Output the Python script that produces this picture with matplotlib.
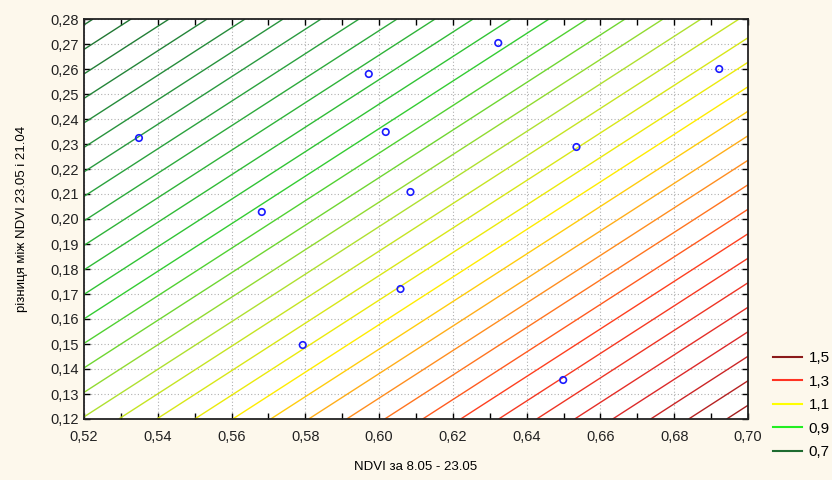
import numpy as np
import matplotlib
matplotlib.use("Agg")
import matplotlib.pyplot as plt
from matplotlib.colors import LinearSegmentedColormap
from matplotlib.lines import Line2D
from matplotlib.ticker import MultipleLocator, FuncFormatter

# Observed points
x_pts = [0.5349, 0.5682, 0.5793, 0.5972, 0.6018, 0.6085, 0.6058, 0.6323, 0.6535, 0.6922, 0.6499]
y_pts = [0.2324, 0.2028, 0.1496, 0.2580, 0.2348, 0.2108, 0.1720, 0.2704, 0.2288, 0.2600, 0.1356]

# Fitted surface coefficients (z = b0 + bx*(x-0.52) + by*(y-0.28))
b0 = 0.694
bx = 2.427
by = -2.551

level_start = 0.55
level_stop = 1.65
level_step = 0.025

legend_labels = ["1,5", "1,3", "1,1", "0,9", "0,7"]
legend_colors = ["#8b1a1a", "#ff3322", "#ffff00", "#22ee22", "#1e6b30"]

xlabel = "NDVI за 8.05 - 23.05"
ylabel = "різниця між NDVI 23.05 і 21.04"

plt.rcParams['font.family'] = ['Liberation Sans', 'DejaVu Sans']

fig = plt.figure(figsize=(8.32, 4.8), dpi=100)
fig.patch.set_facecolor("#fdf8ec")
ax = fig.add_axes([84/832, 1-419/480, (748-84)/832, (419-19)/480])
ax.set_facecolor("white")

gx = np.linspace(0.52, 0.70, 200)
gy = np.linspace(0.12, 0.28, 200)
GX, GY = np.meshgrid(gx, gy)
Z = b0 + bx*(GX-0.52) + by*(GY-0.28)

zmin, zmax = 0.69, 1.56
nodes = [(0.69, "#1e6e30"), (0.85, "#2a9a40"), (1.00, "#33cc33"), (1.10, "#b0e030"),
         (1.20, "#ffee00"), (1.26, "#ffa020"), (1.35, "#ff4020"), (1.45, "#dd2a2a"),
         (1.56, "#8b1a1a")]
cmap = LinearSegmentedColormap.from_list(
    "st", [((z - zmin)/(zmax - zmin), c) for z, c in nodes])
levels = np.arange(level_start, level_stop, level_step)
ax.contour(GX, GY, Z, levels=levels, cmap=cmap, vmin=zmin, vmax=zmax, linewidths=1.0)

ax.scatter(x_pts, y_pts, s=22, facecolors="none", edgecolors="#1a1aff", linewidths=1.2, zorder=5)

ax.set_xlim(0.52, 0.70)
ax.set_ylim(0.12, 0.28)
ax.xaxis.set_major_locator(MultipleLocator(0.02))
ax.xaxis.set_minor_locator(MultipleLocator(0.01))
ax.yaxis.set_major_locator(MultipleLocator(0.01))
fmt2 = FuncFormatter(lambda v, p: f"{v:.2f}".replace(".", ","))
ax.xaxis.set_major_formatter(fmt2)
ax.yaxis.set_major_formatter(fmt2)
ax.tick_params(which="both", direction="in", top=True, right=True, labelsize=10.5, colors="black",
               labelcolor="#222222")
ax.tick_params(which="major", length=4, width=1)
ax.tick_params(which="minor", length=4, width=1)
ax.tick_params(axis="x", pad=8)
ax.grid(True, which="major", color="#b0b0b0", linestyle=(0, (1, 2)), linewidth=0.8)
for s in ax.spines.values():
    s.set_linewidth(1.3)
    s.set_color("#222222")

narrow = ['Liberation Sans Narrow', 'Liberation Sans', 'DejaVu Sans']
ax.set_xlabel(xlabel, fontsize=9.5, labelpad=12, family=narrow)
ax.set_ylabel(ylabel, fontsize=9.5, labelpad=16, family=narrow)

handles = [Line2D([0], [0], color=c, lw=1.5) for c in legend_colors]
leg = fig.legend(handles, legend_labels, loc="lower left", bbox_to_anchor=(759/832, 1-473/480),
                 frameon=False, fontsize=11, handlelength=1.9, handletextpad=0.45, labelspacing=0.62)

fig.savefig("out.png", dpi=100, facecolor=fig.get_facecolor())
